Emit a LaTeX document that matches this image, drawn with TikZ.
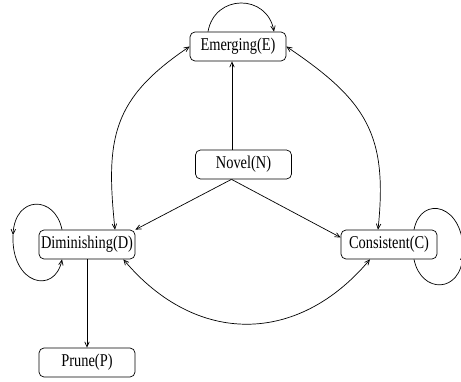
\documentclass[tikz,border=0pt]{standalone}
\usepackage{fontspec}
\setmainfont{Liberation Serif}[FakeStretch=0.8]
\usepackage{tikz}
\usetikzlibrary{arrows.meta}

\begin{document}
\begin{tikzpicture}[x=1pt,y=1pt,line width=0.7pt,>={Straight Barb[length=5pt,width=4.5pt]}]
		\tikzstyle{state} = [draw, rectangle, rounded corners=5pt, minimum width=96pt, minimum height=29pt, inner sep=0pt, font=\fontsize{18}{20}\selectfont]
		\useasboundingbox (0,0) rectangle (461,381);
		\node [state] (E) at (238,334.5) {Emerging(E)};
		\node [state] (N) at (243.5,216.5) {Novel(N)};
		\node [state] (D) at (87,136.5) {Diminishing(D)};
		\node [state] (C) at (389,136.5) {Consistent(C)};
		\node [state] (P) at (87,18.5) {Prune(P)};
		\coordinate (Dl) at (13,146);
		\coordinate (Cl) at (463,127);

		\draw[->] ([xshift=-11.5pt]N.north) -- ([xshift=-11.5pt]N.north |- E.south);
		\draw[->] ([xshift=-12pt]N.south) -- (D.north east);
		\draw[->] ([xshift=-12pt]N.south) -- ([yshift=7pt]C.west);
		\draw[->] (D.south) -- (P.north);
		\draw[<->] (E.west) to[out=214,in=96,looseness=1.2] ([xshift=28pt]D.north);
		\draw[<->] (E.east) to[out=-34,in=84,looseness=1.2] ([xshift=-11pt]C.north);
		\draw[<->] ([xshift=-12pt]D.south east) to[out=-50,in=230,looseness=1.17] ([xshift=-19pt]C.south);
		%self loops
		\draw[->] ([xshift=-30pt]E.north) to[out=80,in=100,looseness=1.5] ([xshift=36pt]E.north);
		\draw[->] ([xshift=-25pt]D.north) .. controls (55,186) and (15,186) .. (Dl);
		\draw[->] (Dl) .. controls (11,96) and (55,86) .. ([xshift=-25pt]D.south);
		\draw[->] ([xshift=25pt]C.south) .. controls (421,87) and (461,87) .. (Cl);
		\draw (Cl) .. controls (465,177) and (421,187) .. ([xshift=25pt]C.north);
	\end{tikzpicture}
\end{document}
